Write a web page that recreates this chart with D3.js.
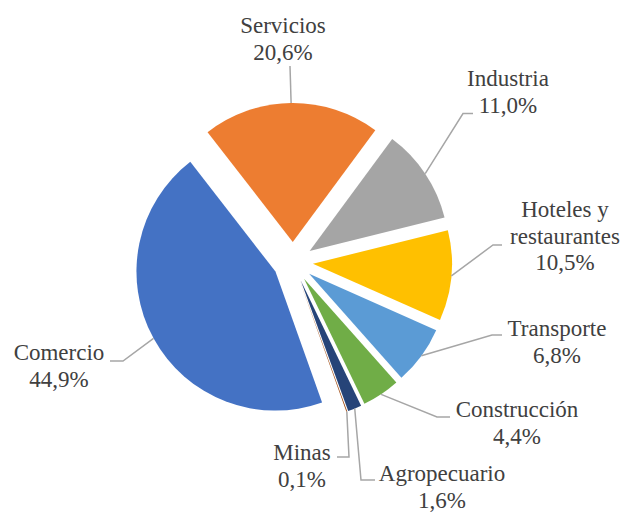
<!DOCTYPE html>
<html>
<head>
    <meta charset="utf-8" />
    <title>Sectores</title>
    <style>
        body {
            margin: 0;
            background: #fff;
        }

        svg text {
            font-family: 'Liberation Serif', 'Times New Roman', Times, serif;
        }

        .leader {
            fill: none;
            stroke: #a6a6a6;
            stroke-width: 1.5;
        }
    </style>
</head>
<body>
    <svg id="chart" width="623" height="512"></svg>
    <script src="https://cdn.jsdelivr.net/npm/d3@7"></script>
    <script>
        // datos
        let categories = ['Comercio', 'Servicios', 'Industria', 'Hoteles y restaurantes',
                          'Transporte', 'Construcción', 'Agropecuario', 'Minas']
        let shares = [44.9, 20.6, 11.0, 10.5, 6.8, 4.4, 1.6, 0.1]
        let colors = ['#4472c4', '#ed7d31', '#a5a5a5', '#ffc000',
                      '#5b9bd5', '#70ad47', '#264478', '#9e480e']

        // posiciones de etiquetas (centro del texto, primera linea base) y codos
        let labelLayout = [
            { x: 59, y: 360, elbow: [123, 361], end: [110, 361] },
            { x: 283, y: 33, elbow: null, end: [290, 66] },
            { x: 508, y: 86, elbow: [463, 113.5], end: [473, 113.5] },
            { x: 565, y: 217, elbow: [493, 245], end: [502, 245] },
            { x: 557, y: 336, elbow: [492, 335], end: [502, 335] },
            { x: 517, y: 417, elbow: [437, 417], end: [450, 417] },
            { x: 442, y: 481, elbow: [361, 480], end: [375, 480] },
            { x: 302, y: 460, elbow: [349, 457], end: [337, 457] }
        ]

        let cx = 293,
            cy = 262,
            radius = 139,
            explode = 20,
            lineHeight = 26.5,
            start = 160.4 * Math.PI / 180

        let pct = function (v) {
            return d3.format('.1f')(v).replace('.', ',') + '%'
        }

        let pie = d3.pie()
                    .sort(null)
                    .value(function (d) { return d })
                    .startAngle(start)
                    .endAngle(start + 2 * Math.PI)

        let arcs = pie(shares)

        let arc = d3.arc()
                    .innerRadius(0)
                    .outerRadius(radius)

        function shift(a) {
            let m = (a.startAngle + a.endAngle) / 2
            return [cx + Math.sin(m) * explode, cy - Math.cos(m) * explode]
        }

        let svg = d3.select('#chart')

        svg
            .append('g')
            .selectAll('path')
            .data(arcs)
            .enter()
                .append('path')
                .attr('transform', function (d) {
                    let o = shift(d)
                    return `translate(${o[0]}, ${o[1]})`
                })
                .attr('d', arc)
                .attr('fill', function (d, i) { return colors[i] })

        // lineas guia
        svg
            .append('g')
            .selectAll('polyline')
            .data(arcs)
            .enter()
                .append('polyline')
                .classed('leader', true)
                .attr('points', function (d, i) {
                    let o = shift(d),
                        m = (d.startAngle + d.endAngle) / 2,
                        p0 = [o[0] + Math.sin(m) * radius, o[1] - Math.cos(m) * radius],
                        lay = labelLayout[i],
                        pts = [p0]
                    if (lay.elbow) pts.push(lay.elbow)
                    pts.push(lay.end)
                    return pts.map(function (p) { return p.join(',') }).join(' ')
                })

        // etiquetas: una linea por elemento text
        let labelGroup = svg
                            .append('g')
                            .attr('font-family', 'Liberation Serif, Times New Roman, serif')
                            .attr('font-size', 23)
                            .attr('fill', '#404040')
                            .attr('text-anchor', 'middle')

        categories.forEach(function (name, i) {
            let k = name.indexOf(' y ')
            let lines = k > 0 ? [name.slice(0, k + 2), name.slice(k + 3)] : [name]
            lines.push(pct(shares[i]))
            lines.forEach(function (t, j) {
                labelGroup
                    .append('text')
                    .attr('x', labelLayout[i].x)
                    .attr('y', labelLayout[i].y + j * lineHeight)
                    .text(t)
            })
        })
    </script>
</body>
</html>
